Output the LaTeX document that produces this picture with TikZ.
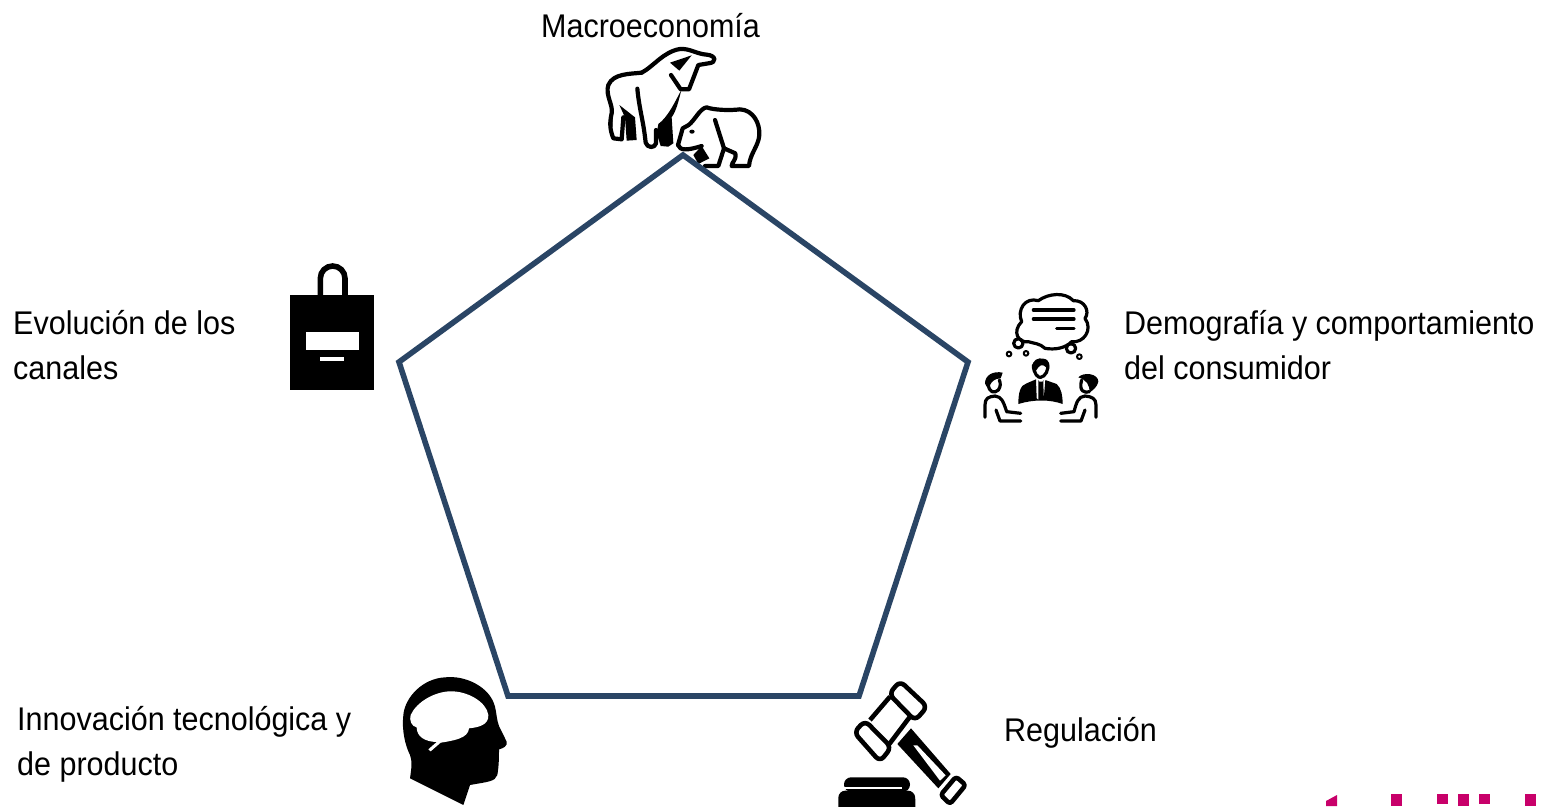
\documentclass[tikz,border=0pt]{standalone}
\usepackage{fontspec}
\setmainfont{Liberation Sans}[FakeStretch=0.93]
\tikzset{
  lbl/.style={anchor=north west,inner sep=0pt,align=left,font=\fontsize{32.8}{45}\selectfont,text=black},
  penta/.style={draw=pentablue,line width=5.6pt,line join=miter},
  ink/.style={draw=black,line width=4.2pt,line join=round,line cap=round},
  fineink/.style={draw=black,line width=3.2pt,line join=round,line cap=round},
  thinink/.style={draw=black,line width=2pt,line join=round,line cap=round},
  gavelink/.style={draw=black,line width=4.6pt,line join=round},
  mark piece/.style={fill=brandpink,draw=none}
}
\definecolor{pentablue}{HTML}{2A4565}
\definecolor{brandpink}{HTML}{C8006A}
\begin{document}
\begin{tikzpicture}[x=1pt,y=-1pt]
\useasboundingbox (0,0) rectangle (1547,806);
\clip (0,0) rectangle (1547,806);
\fill[white] (0,0) rectangle (1547,806);

% bull and bear
\begin{scope}[shift={(590,30)},scale=1/3]
  \draw[ink] (155,128) .. controls (190,110) and (220,65) .. (270,57) .. controls (300,55) and (320,72) .. (350,74) .. controls (378,76) and (382,98) .. (355,100) -- (325,105) -- (297,178) -- (272,178) -- (243,135);
  \fill (240,98) -- (305,76) -- (268,122) -- cycle;
  \draw[ink] (155,128) .. controls (120,132) and (70,130) .. (55,165) .. controls (45,195) and (70,225) .. (65,250) .. controls (58,280) and (60,300) .. (70,325) -- (95,328) -- (100,262);
  \fill (88,225) -- (135,262) -- (140,330) -- (110,332) -- (105,262) -- cycle;
  \fill (60,250) -- (68,255) -- (68,290) -- (55,285) -- cycle;
  \draw[ink] (142,176) .. controls (148,240) and (160,270) .. (167,338) .. controls (172,355) and (195,355) .. (198,340) -- (198,300);
  \fill (274,180) .. controls (265,215) and (260,240) .. (245,262) -- (250,340) -- (235,350) -- (212,348) -- (200,310) -- (205,282) .. controls (235,260) and (255,215) .. (274,180) -- cycle;
  \draw[ink] (264,345) -- (278,295) -- (296,285) .. controls (315,270) and (330,235) .. (350,232) .. controls (370,240) and (420,242) .. (450,238) .. controls (490,240) and (510,280) .. (508,315) .. controls (505,350) and (480,370) .. (477,408) -- (425,408) .. controls (425,395) and (440,392) .. (436,370) -- (402,355) -- (385,408) -- (345,408);
  \draw[ink] (264,345) .. controls (270,362) and (290,362) .. (335,348);
  \fill (335,348) -- (358,385) -- (325,402) -- (310,375) -- cycle;
  \draw[ink] (375,270) -- (402,355);
  \fill (306,305) ellipse (8 and 6);
\end{scope}

% people talking
\begin{scope}[shift={(970,280)},scale=1/3]
  \draw[fineink] (175,185) .. controls (145,190) and (125,155) .. (155,125) .. controls (140,90) and (165,50) .. (205,62) .. controls (235,40) and (285,35) .. (310,62) .. controls (345,60) and (360,95) .. (345,115) .. controls (370,150) and (340,190) .. (305,185) .. controls (285,205) and (255,210) .. (225,205) .. controls (210,190) and (190,190) .. (175,185);
  \draw[fineink] (190,90) -- (312,90) (190,117) -- (312,117) (260,145) -- (312,145);
  \draw[fineink] (145,190) circle (14);
  \draw[fineink] (303,205) circle (14);
  \draw[thinink] (117,222) circle (7) (168,220) circle (7) (328,230) circle (7);
  % centre person
  \draw[fineink] (190,255) .. controls (190,280) and (205,295) .. (212,292) .. controls (225,290) and (238,270) .. (232,250);
  \fill (188,262) .. controls (185,240) and (205,232) .. (220,236) .. controls (240,238) and (242,260) .. (234,270) .. controls (225,255) and (215,250) .. (205,262) -- (198,272) -- cycle;
  \fill (145,372) .. controls (145,340) and (150,315) .. (170,310) -- (198,298) -- (200,355) -- (203,358) -- (205,360) -- (205,300) -- (208,305) -- (218,305) -- (220,300) -- (221,358) -- (226,300) -- (260,312) .. controls (275,325) and (278,350) .. (278,372) .. controls (240,358) and (190,358) .. (145,372) -- cycle;
  % left person
  \draw[fineink] (55,310) .. controls (55,340) and (75,340) .. (85,330) .. controls (92,320) and (92,310) .. (88,300);
  \fill (45,310) .. controls (45,285) and (70,272) .. (98,278) -- (92,295) .. controls (75,295) and (65,305) .. (60,315) -- (50,320) -- cycle;
  \draw[fineink] (45,412) -- (45,375) .. controls (45,355) and (55,350) .. (75,348) .. controls (95,350) and (100,365) .. (110,395) -- (152,400);
  \draw[fineink] (78,390) -- (90,423) -- (152,423);
  % right person
  \draw[fineink] (335,300) .. controls (325,335) and (345,340) .. (358,335);
  \fill (325,292) .. controls (340,275) and (385,280) .. (385,305) .. controls (382,320) and (370,330) .. (358,338) .. controls (360,315) and (350,300) .. (325,292) -- cycle;
  \draw[fineink] (378,412) -- (378,375) .. controls (378,355) and (365,350) .. (345,348) .. controls (325,350) and (320,365) .. (312,395) -- (272,400);
  \draw[fineink] (345,390) -- (333,423) -- (272,423);
\end{scope}

% shopping bag
\begin{scope}[shift={(280,255)},scale=1/3]
  \draw[line width=5.6pt] (121,125) -- (121,70) arc[start angle=180,end angle=360,radius=37] -- (195,125);
  \fill (30,121) rectangle (282,406);
  \fill[white] (77,232) rectangle (236,284);
  \fill[white] (121,306) rectangle (192,318);
\end{scope}

% head
\begin{scope}[shift={(395,670)},scale=1/3]
  \fill (45,325) .. controls (50,290) and (52,275) .. (45,255) .. controls (30,225) and (20,180) .. (25,135) .. controls (30,80) and (85,25) .. (150,22) .. controls (210,15) and (285,50) .. (300,110) .. controls (305,130) and (305,150) .. (312,168) -- (335,215) .. controls (338,228) and (325,235) .. (312,238) .. controls (312,260) and (312,285) .. (307,315) .. controls (300,335) and (280,335) .. (225,345) -- (205,405) -- cycle;
  \fill[white] (47,135) .. controls (65,95) and (120,65) .. (165,64) .. controls (215,62) and (275,95) .. (280,135) .. controls (282,165) and (250,172) .. (222,175) .. controls (220,205) and (175,212) .. (137,218) -- (107,244) -- (100,238) -- (125,216) .. controls (90,215) and (65,200) .. (65,172) .. controls (50,170) and (42,150) .. (47,135) -- cycle;
\end{scope}

% gavel
\begin{scope}[shift={(830,670)},scale=1/3]
  \draw[gavelink,rounded corners=6pt] (210,33) -- (292,110) -- (255,152) -- (177,72) -- cycle;
  \draw[gavelink,rounded corners=6pt] (105,152) -- (184,232) -- (150,275) -- (72,187) -- cycle;
  \draw[gavelink] (180,80) -- (120,150) (240,140) -- (178,222);
  \fill (243,175) -- (202,222) -- (325,355) -- (362,312) -- cycle;
  \fill[white] (250,226) -- (262,226) -- (347,316) -- (330,332) -- cycle;
  \draw[gavelink,rounded corners=3pt] (378,320) -- (407,345) -- (360,402) -- (332,375) -- cycle;
  \fill[rounded corners=7pt] (42,365) -- (42,322) -- (240,322) -- (240,365) -- cycle;
  \fill[rounded corners=7pt] (25,430) -- (25,362) -- (255,362) -- (257,430) -- cycle;
  \fill[white] (42,352) rectangle (217,357);
  \fill[white] (42,358) rectangle (30,350);
\end{scope}

% pentagon
\draw[penta] (683,155) -- (968,362) -- (859,696) -- (508,696) -- (399,362) -- cycle;

% partial brand mark
\fill[mark piece] (1326,806) -- (1326,801) -- (1337,795) -- (1337,806) -- cycle;
\fill[mark piece] (1391,794) rectangle (1402,806);
\fill[mark piece] (1437,794) rectangle (1448,804);
\fill[mark piece] (1458,794) rectangle (1469,806);
\fill[mark piece] (1479,794) rectangle (1490,804);
\fill[mark piece] (1525,794) rectangle (1536,806);

% labels
\node[lbl] (macro) at (541,13) {Macroeconomía};
\node[lbl] (canales) at (13,310) {Evolución de los\\canales};
\node[lbl] (demo) at (1124,310) {Demografía y comportamiento\\del consumidor};
\node[lbl] (innov) at (17,706) {Innovación tecnológica y\\de producto};
\node[lbl] (regul) at (1004,717) {Regulación};
\end{tikzpicture}
\end{document}
